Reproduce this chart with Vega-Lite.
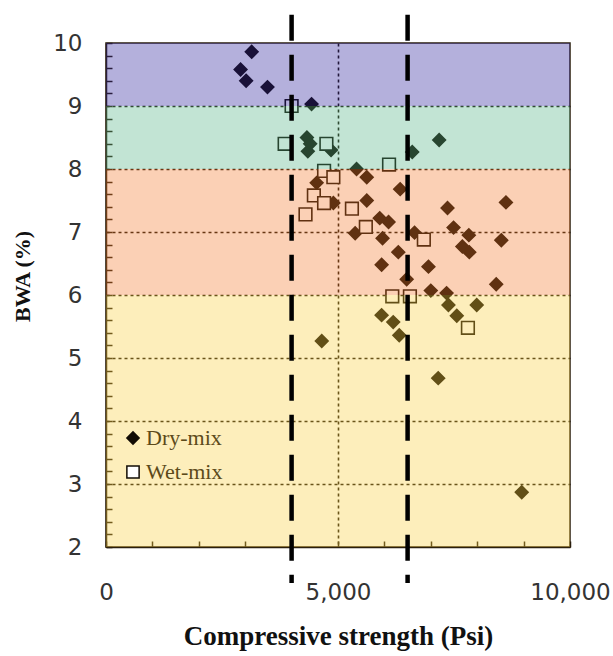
{
  "$schema": "https://vega.github.io/schema/vega-lite/v6.json",
  "autosize": "none",
  "width": 464,
  "height": 504,
  "padding": {"left": 106, "top": 43, "right": 43, "bottom": 109},
  "background": "white",
  "data": {"values": [{}]},
  "config": {
    "view": {"stroke": "#2a1e0c", "strokeWidth": 1.5},
    "axis": {
      "domainColor": "#2a1e0c", "domainWidth": 1.5,
      "tickColor": "#2a1e0c", "tickWidth": 1.5, "tickSize": -6,
      "gridColor": "#1e1408", "gridWidth": 1.6, "gridDash": [3, 3],
      "labelFont": "DejaVu Sans", "labelFontSize": 23, "labelColor": "#333333",
      "labelOverlap": false, "labelFlush": false,
      "titleFont": "Liberation Serif", "titleFontWeight": "bold", "titleColor": "#111111"
    },
    "legend": {
      "orient": "none", "legendX": 16, "legendY": 384, "padding": 0,
      "labelFont": "Liberation Serif", "labelFontSize": 22, "labelColor": "#5c4a1a",
      "symbolSize": 150,
      "rowPadding": 12, "labelOffset": 2
    }
  },
  "datasets": {
    "pts": [
      {"cs": 3140, "bwa": 9.86, "mix": "Dry-mix"},
      {"cs": 2900, "bwa": 9.58, "mix": "Dry-mix"},
      {"cs": 3020, "bwa": 9.40, "mix": "Dry-mix"},
      {"cs": 3480, "bwa": 9.30, "mix": "Dry-mix"},
      {"cs": 4430, "bwa": 9.03, "mix": "Dry-mix"},
      {"cs": 4330, "bwa": 8.50, "mix": "Dry-mix"},
      {"cs": 4400, "bwa": 8.40, "mix": "Dry-mix"},
      {"cs": 4350, "bwa": 8.28, "mix": "Dry-mix"},
      {"cs": 4850, "bwa": 8.30, "mix": "Dry-mix"},
      {"cs": 7180, "bwa": 8.46, "mix": "Dry-mix"},
      {"cs": 6600, "bwa": 8.27, "mix": "Dry-mix"},
      {"cs": 5400, "bwa": 8.00, "mix": "Dry-mix"},
      {"cs": 5620, "bwa": 7.87, "mix": "Dry-mix"},
      {"cs": 6340, "bwa": 7.68, "mix": "Dry-mix"},
      {"cs": 4540, "bwa": 7.78, "mix": "Dry-mix"},
      {"cs": 4900, "bwa": 7.46, "mix": "Dry-mix"},
      {"cs": 5620, "bwa": 7.50, "mix": "Dry-mix"},
      {"cs": 7360, "bwa": 7.38, "mix": "Dry-mix"},
      {"cs": 8620, "bwa": 7.47, "mix": "Dry-mix"},
      {"cs": 5900, "bwa": 7.22, "mix": "Dry-mix"},
      {"cs": 6090, "bwa": 7.16, "mix": "Dry-mix"},
      {"cs": 5370, "bwa": 6.98, "mix": "Dry-mix"},
      {"cs": 5960, "bwa": 6.90, "mix": "Dry-mix"},
      {"cs": 6650, "bwa": 6.99, "mix": "Dry-mix"},
      {"cs": 7490, "bwa": 7.07, "mix": "Dry-mix"},
      {"cs": 7820, "bwa": 6.95, "mix": "Dry-mix"},
      {"cs": 7680, "bwa": 6.77, "mix": "Dry-mix"},
      {"cs": 7830, "bwa": 6.68, "mix": "Dry-mix"},
      {"cs": 8520, "bwa": 6.87, "mix": "Dry-mix"},
      {"cs": 6300, "bwa": 6.68, "mix": "Dry-mix"},
      {"cs": 5940, "bwa": 6.48, "mix": "Dry-mix"},
      {"cs": 6950, "bwa": 6.45, "mix": "Dry-mix"},
      {"cs": 8410, "bwa": 6.17, "mix": "Dry-mix"},
      {"cs": 6480, "bwa": 6.25, "mix": "Dry-mix"},
      {"cs": 7000, "bwa": 6.07, "mix": "Dry-mix"},
      {"cs": 7340, "bwa": 6.03, "mix": "Dry-mix"},
      {"cs": 7380, "bwa": 5.84, "mix": "Dry-mix"},
      {"cs": 7560, "bwa": 5.67, "mix": "Dry-mix"},
      {"cs": 7990, "bwa": 5.84, "mix": "Dry-mix"},
      {"cs": 5940, "bwa": 5.68, "mix": "Dry-mix"},
      {"cs": 6190, "bwa": 5.57, "mix": "Dry-mix"},
      {"cs": 6320, "bwa": 5.36, "mix": "Dry-mix"},
      {"cs": 4650, "bwa": 5.27, "mix": "Dry-mix"},
      {"cs": 7160, "bwa": 4.68, "mix": "Dry-mix"},
      {"cs": 8960, "bwa": 2.87, "mix": "Dry-mix"},
      {"cs": 4000, "bwa": 9.00, "mix": "Wet-mix"},
      {"cs": 3850, "bwa": 8.40, "mix": "Wet-mix"},
      {"cs": 4750, "bwa": 8.40, "mix": "Wet-mix"},
      {"cs": 4700, "bwa": 7.97, "mix": "Wet-mix"},
      {"cs": 4900, "bwa": 7.87, "mix": "Wet-mix"},
      {"cs": 4480, "bwa": 7.58, "mix": "Wet-mix"},
      {"cs": 4700, "bwa": 7.46, "mix": "Wet-mix"},
      {"cs": 4300, "bwa": 7.28, "mix": "Wet-mix"},
      {"cs": 5300, "bwa": 7.37, "mix": "Wet-mix"},
      {"cs": 5600, "bwa": 7.08, "mix": "Wet-mix"},
      {"cs": 6100, "bwa": 8.07, "mix": "Wet-mix"},
      {"cs": 6850, "bwa": 6.88, "mix": "Wet-mix"},
      {"cs": 6170, "bwa": 5.98, "mix": "Wet-mix"},
      {"cs": 6550, "bwa": 5.98, "mix": "Wet-mix"},
      {"cs": 7800, "bwa": 5.48, "mix": "Wet-mix"}
    ]
  },
  "layer": [
    {
      "data": {"name": "pts"},
      "mark": {"type": "point", "filled": false, "strokeWidth": 1.6, "size": 160, "opacity": 1, "strokeOpacity": 1, "fillOpacity": 1},
      "encoding": {
        "x": {
          "field": "cs", "type": "quantitative",
          "scale": {"domain": [0, 10000], "nice": false, "zero": false},
          "axis": {
            "tickCount": 10,
            "labelExpr": "datum.value % 5000 === 0 ? format(datum.value, ',') : ''",
            "labelPadding": 40,
            "labelOverlap": false,
            "grid": true,
            "gridOpacity": {"condition": {"test": "datum.value === 5000", "value": 1}, "value": 0},
            "title": "Compressive strength (Psi)",
            "titleFontSize": 27,
            "titleX": 232, "titleY": 89, "titleBaseline": "middle", "titleAlign": "center"
          }
        },
        "y": {
          "field": "bwa", "type": "quantitative",
          "scale": {"domain": [2, 10], "nice": false, "zero": false},
          "axis": {
            "tickCount": 40,
            "labelExpr": "abs(datum.value - round(datum.value)) < 0.01 ? format(datum.value, 'd') : ''",
            "labelPadding": 30,
            "labelOverlap": false,
            "grid": true,
            "gridOpacity": {"condition": {"test": "abs(datum.value - round(datum.value)) < 0.01 && datum.value > 2.5 && datum.value < 9.5", "value": 1}, "value": 0},
            "title": "BWA (%)",
            "titleFontSize": 22,
            "titleX": -84, "titleY": 233, "titleBaseline": "middle", "titleAlign": "center", "titleAngle": -90
          }
        },
        "shape": {
          "field": "mix", "type": "nominal",
          "scale": {"domain": ["Dry-mix", "Wet-mix"], "range": ["diamond", "square"]},
          "legend": {
            "title": null,
            "encode": {"symbols": {"update": {
              "fill": {"signal": "datum.value === 'Dry-mix' ? '#3e3010' : '#fdf0c8'"},
              "stroke": {"value": "#4a3a14"},
              "strokeWidth": {"value": 1.8}
            }}}
          }
        },
        "fill": {
          "field": "mix", "type": "nominal",
          "scale": {"domain": ["Dry-mix", "Wet-mix"], "range": ["#120c04", "#ffffff"]},
          "legend": null
        },
        "stroke": {"value": "#120c04"}
      }
    },
    {"mark": {"type": "rect", "color": "#281d9a", "opacity": 0.35}, "encoding": {"y": {"datum": 10}, "y2": {"datum": 9}}},
    {"mark": {"type": "rect", "color": "#50b183", "opacity": 0.35}, "encoding": {"y": {"datum": 9}, "y2": {"datum": 8}}},
    {"mark": {"type": "rect", "color": "#f3782b", "opacity": 0.35}, "encoding": {"y": {"datum": 8}, "y2": {"datum": 6}}},
    {"mark": {"type": "rect", "color": "#f9ce3c", "opacity": 0.35}, "encoding": {"y": {"datum": 6}, "y2": {"datum": 2}}},
    {"mark": {"type": "rule", "color": "#000000", "strokeWidth": 4.5, "strokeDash": [26, 14]}, "encoding": {"x": {"datum": 4000}, "y": {"datum": 10.45}, "y2": {"datum": 1.43}}},
    {"mark": {"type": "rule", "color": "#000000", "strokeWidth": 4.5, "strokeDash": [26, 14]}, "encoding": {"x": {"datum": 6500}, "y": {"datum": 10.45}, "y2": {"datum": 1.43}}}
  ]
}
